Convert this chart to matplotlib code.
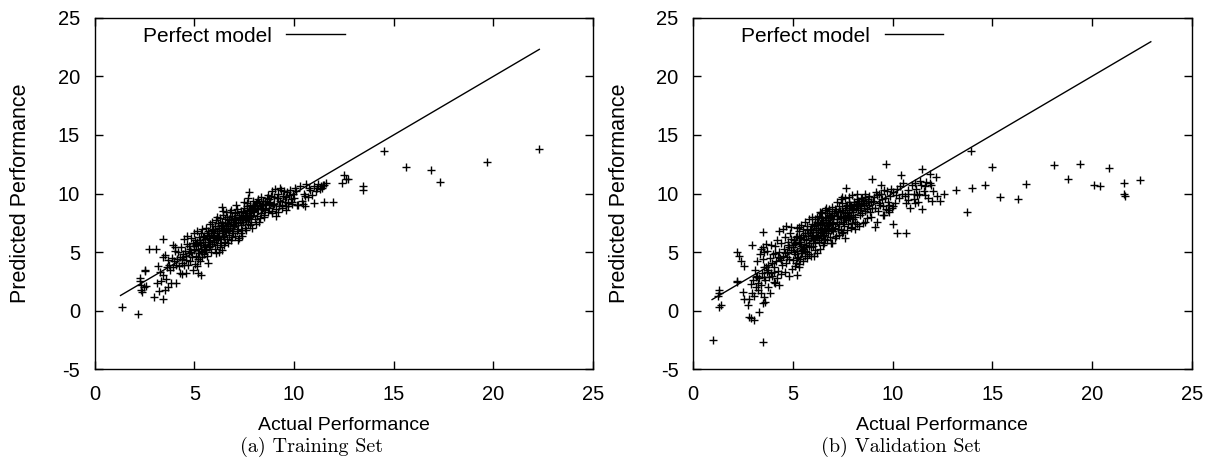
import matplotlib
matplotlib.use("Agg")
import matplotlib.pyplot as plt

plt.rcParams["font.family"] = ["Liberation Sans", "DejaVu Sans"]
plt.rcParams["axes.unicode_minus"] = False

# ---------- data ----------

train_actual = [
    1.36, 2.18, 14.49, 15.63, 16.88, 17.31, 19.67, 22.27, 13.45, 13.45,
    12.5, 12.6, 12.7, 12.4, 11.95, 11.5, 11.0, 10.55, 9.6, 9.62,
    9.1, 2.73, 3.06, 3.41, 2.53, 2.55, 2.28, 2.3, 2.35, 2.32,
    2.4, 2.5, 2.6, 2.96, 3.45, 3.25, 3.54, 3.68, 3.84, 3.15,
    3.35, 3.6, 3.45, 3.19, 3.45, 3.54, 3.64, 3.74, 3.93, 4.03,
    4.07, 4.6, 4.38, 4.26, 5.2, 5.35, 5.68, 6.37, 7.73, 3.3,
    4.1, 4.15, 4.2, 4.25, 4.3, 4.35, 4.4, 4.45, 4.5, 4.55,
    4.6, 4.62, 4.65, 4.7, 4.72, 4.75, 4.8, 4.82, 4.85, 4.9,
    4.92, 4.95, 4.98, 4.0, 3.9, 3.8, 3.7, 3.95, 4.05, 4.5,
    5.0, 5.02, 5.05, 5.08, 5.1, 5.12, 5.15, 5.18, 5.2, 5.22,
    5.25, 5.28, 5.3, 5.32, 5.35, 5.38, 5.4, 5.42, 5.45, 5.48,
    5.5, 5.52, 5.55, 5.58, 5.6, 5.62, 5.65, 5.68, 5.7, 5.72,
    5.75, 5.78, 5.8, 5.82, 5.85, 5.88, 5.9, 5.92, 5.95, 5.98,
    6.0, 6.02, 6.05, 6.08, 6.1, 6.12, 6.15, 6.18, 6.2, 6.22,
    6.25, 6.28, 6.3, 6.32, 6.35, 6.38, 6.4, 6.42, 6.45, 6.48,
    6.5, 6.52, 6.55, 6.58, 6.6, 6.62, 6.65, 6.68, 6.7, 6.72,
    6.75, 6.78, 6.8, 6.82, 6.85, 6.88, 6.9, 6.92, 6.95, 6.98,
    6.3, 6.5, 6.7, 6.9, 6.1, 6.4, 6.6, 6.85, 6.15, 6.45,
    7.0, 7.03, 7.06, 7.1, 7.13, 7.16, 7.2, 7.23, 7.26, 7.3,
    7.33, 7.36, 7.4, 7.43, 7.46, 7.5, 7.53, 7.56, 7.6, 7.63,
    7.66, 7.7, 7.73, 7.76, 7.8, 7.83, 7.86, 7.9, 7.93, 7.96,
    7.2, 7.4, 7.6, 7.8, 7.1, 7.5, 7.7, 7.9, 7.35, 7.65,
    8.0, 8.04, 8.08, 8.12, 8.16, 8.2, 8.24, 8.28, 8.32, 8.36,
    8.4, 8.44, 8.48, 8.52, 8.56, 8.6, 8.64, 8.68, 8.72, 8.76,
    8.8, 8.84, 8.88, 8.92, 8.96, 8.1, 8.3, 8.5, 8.7, 8.9,
    9.0, 9.05, 9.1, 9.15, 9.2, 9.25, 9.3, 9.35, 9.4, 9.45,
    9.5, 9.55, 9.6, 9.65, 9.7, 9.75, 9.8, 9.85, 9.9, 9.95,
    9.2, 9.4, 9.7, 9.9, 9.3,
    10.0, 10.1, 10.2, 10.3, 10.4, 10.5, 10.6, 10.7, 10.8, 10.9,
    11.0, 11.1, 11.2, 11.3, 11.4, 11.5, 11.6, 10.15, 10.45, 10.75,
    11.15, 11.35, 11.45, 10.05, 10.55,
    5.1, 5.3, 5.5, 5.7, 5.9, 6.05, 6.25, 6.45, 6.65, 6.85,
    7.05, 7.25, 7.45, 7.65, 7.85, 8.05, 8.25, 8.45, 5.2, 5.4,
    5.6, 5.8, 6.0, 6.2, 6.4, 6.6, 6.8, 7.0, 7.2, 7.4,
    7.6, 7.8, 8.0, 8.2, 8.4, 4.4, 4.6, 4.8, 5.0, 5.15,
    5.35, 5.55, 5.75, 5.95, 6.15, 6.35, 6.55, 6.75, 6.95, 7.15,
    7.35, 7.55, 7.75, 7.95, 8.15, 8.35, 8.55, 8.75, 9.0, 9.2,
]
train_predicted = [
    0.33, -0.32, 13.6, 12.25, 12.03, 10.94, 12.68, 13.77, 10.66, 10.31,
    11.6, 11.2, 11.2, 10.86, 9.26, 9.3, 9.2, 8.97, 8.6, 8.9,
    8.1, 5.3, 5.23, 6.1, 3.5, 3.4, 2.8, 2.5, 2.2, 1.8,
    1.6, 2.0, 2.1, 1.2, 1.0, 1.7, 1.75, 2.0, 2.33, 2.4,
    2.5, 2.7, 3.05, 3.84, 4.6, 4.75, 3.75, 3.9, 5.6, 5.46,
    2.4, 3.2, 3.13, 3.2, 3.2, 3.05, 4.1, 8.83, 10.1, 3.3,
    3.9, 4.4, 5.0, 3.8, 4.6, 5.4, 4.1, 4.8, 3.9, 5.1,
    4.3, 5.7, 6.4, 3.9, 4.9, 5.5, 4.2, 6.2, 5.0, 4.6,
    5.8, 3.5, 6.6, 4.2, 4.5, 3.5, 4.3, 3.7, 5.1, 6.1,
    5.2, 4.0, 6.0, 4.7, 5.6, 3.8, 6.8, 4.4, 5.3, 6.3,
    4.9, 5.8, 4.2, 6.6, 5.1, 7.0, 4.6, 5.9, 6.3, 5.4,
    4.8, 6.1, 5.6, 7.1, 5.2, 6.5, 4.7, 5.9, 6.8, 6.2,
    5.4, 7.4, 6.0, 5.0, 6.6, 7.6, 5.7, 6.3, 7.0, 5.9,
    6.5, 5.3, 7.2, 6.0, 7.7, 5.6, 6.8, 6.2, 7.5, 5.0,
    6.6, 7.9, 6.1, 7.3, 5.8, 6.9, 7.6, 6.4, 8.2, 7.0,
    6.3, 7.8, 5.9, 7.2, 6.7, 8.0, 6.1, 7.4, 6.9, 7.7,
    6.5, 8.4, 7.1, 6.0, 7.6, 6.8, 8.1, 7.3, 6.6, 7.9,
    5.4, 5.6, 5.8, 6.3, 4.9, 5.2, 8.4, 8.6, 8.0, 8.5,
    7.2, 6.4, 8.3, 7.6, 6.8, 8.7, 7.0, 8.0, 6.2, 7.8,
    8.5, 7.3, 6.9, 8.1, 7.6, 8.8, 7.1, 8.3, 7.7, 9.2,
    8.0, 7.4, 8.6, 7.9, 9.0, 8.2, 7.6, 8.8, 8.4, 9.4,
    6.0, 6.4, 6.9, 7.3, 9.0, 9.3, 9.6, 7.1, 6.6, 8.9,
    8.5, 7.8, 9.2, 8.1, 8.8, 9.5, 7.6, 8.9, 8.3, 9.7,
    8.7, 9.1, 8.0, 9.4, 8.6, 9.0, 9.6, 8.4, 9.2, 8.8,
    9.3, 9.8, 8.5, 10.2, 9.0, 7.4, 7.9, 8.2, 9.9, 8.3,
    9.1, 10.4, 8.7, 9.6, 10.0, 8.9, 9.4, 10.3, 9.0, 9.8,
    10.2, 9.3, 9.7, 10.1, 9.2, 9.9, 10.3, 9.5, 9.1, 10.0,
    8.4, 8.8, 8.9, 9.3, 10.5,
    9.6, 10.2, 9.0, 10.6, 9.4, 10.0, 10.8, 9.7, 10.3, 9.9,
    10.6, 10.2, 10.8, 10.4, 10.5, 10.7, 10.9, 9.0, 9.1, 10.5,
    10.5, 10.6, 10.75, 10.5, 9.8,
    5.7, 6.0, 6.4, 6.6, 6.9, 7.0, 7.1, 7.3, 7.5, 7.8,
    7.9, 8.2, 8.4, 8.5, 8.7, 9.0, 9.2, 9.4, 4.6, 5.0,
    5.3, 5.5, 5.9, 6.3, 6.8, 7.0, 7.2, 7.7, 7.5, 7.9,
    8.2, 8.1, 8.9, 8.7, 9.0, 4.4, 4.7, 5.3, 5.5, 5.9,
    5.6, 5.2, 6.4, 6.4, 6.6, 7.2, 6.8, 7.8, 7.4, 8.4,
    8.0, 7.8, 8.3, 8.6, 9.3, 8.8, 9.1, 9.5, 9.7, 9.6,
]

valid_actual = [
    0.98, 3.51, 3.32, 2.8, 2.9, 3.05, 1.29, 1.31, 1.4, 1.25,
    2.18, 2.28, 2.38, 2.57, 2.18, 2.48, 2.57, 2.73, 3.51, 9.69,
    11.49, 11.86, 12.2, 13.94, 13.2, 14.0, 13.73, 14.63, 15.0, 15.4,
    16.3, 16.71, 18.08, 18.8, 19.4, 20.09, 20.42, 20.87, 21.63, 21.59,
    21.68, 22.43, 10.04, 10.2, 10.67, 11.5, 12.4, 12.0, 12.6, 2.96,
    3.51, 3.55, 3.16, 3.26, 3.39, 3.55, 3.6, 3.5, 2.96, 3.06,
    2.8, 3.41, 3.74, 3.84, 4.04, 4.13, 4.33, 3.9, 4.04, 3.65,
    3.74, 3.55, 5.2, 5.3, 4.91, 5.3, 6.38, 6.67, 6.96, 7.45,
    7.68, 8.23, 8.62, 8.97, 9.4, 9.3, 6.96, 6.57, 7.64, 7.45,
    7.94, 8.13, 8.62, 9.1, 9.2, 9.59, 9.79, 10.37, 10.4, 10.76,
    10.67, 10.76, 11.15, 11.06, 11.15, 11.64, 11.93, 11.35, 11.64, 12.03,
    12.23, 2.2, 1.3, 2.9, 3.2, 3.0,
    3.1, 3.2, 3.3, 3.35, 3.45, 3.5, 3.6, 3.7, 3.75, 3.85,
    3.9, 3.95, 3.4, 3.65, 3.8, 3.25, 3.55, 3.15, 3.7, 3.95,
    4.0, 4.05, 4.1, 4.15, 4.2, 4.25, 4.3, 4.35, 4.4, 4.45,
    4.5, 4.55, 4.6, 4.65, 4.7, 4.75, 4.8, 4.85, 4.9, 4.95,
    4.2, 4.4, 4.6, 4.8, 4.3, 4.5, 4.7, 4.9, 4.1, 4.65,
    5.0, 5.03, 5.06, 5.1, 5.13, 5.16, 5.2, 5.23, 5.26, 5.3,
    5.33, 5.36, 5.4, 5.43, 5.46, 5.5, 5.53, 5.56, 5.6, 5.63,
    5.66, 5.7, 5.73, 5.76, 5.8, 5.83, 5.86, 5.9, 5.93, 5.96,
    5.1, 5.3, 5.5, 5.7, 5.9, 5.2, 5.4, 5.6, 5.8, 5.95,
    5.05, 5.45, 5.65, 5.85, 5.35,
    6.0, 6.02, 6.05, 6.08, 6.1, 6.12, 6.15, 6.18, 6.2, 6.22,
    6.25, 6.28, 6.3, 6.32, 6.35, 6.38, 6.4, 6.42, 6.45, 6.48,
    6.5, 6.52, 6.55, 6.58, 6.6, 6.62, 6.65, 6.68, 6.7, 6.72,
    6.75, 6.78, 6.8, 6.82, 6.85, 6.88, 6.9, 6.92, 6.95, 6.98,
    6.1, 6.3, 6.5, 6.7, 6.9, 6.2, 6.4, 6.6, 6.8, 6.05,
    6.35, 6.55, 6.75, 6.15, 6.45,
    7.0, 7.03, 7.06, 7.1, 7.13, 7.16, 7.2, 7.23, 7.26, 7.3,
    7.33, 7.36, 7.4, 7.43, 7.46, 7.5, 7.53, 7.56, 7.6, 7.63,
    7.66, 7.7, 7.73, 7.76, 7.8, 7.83, 7.86, 7.9, 7.93, 7.96,
    7.1, 7.3, 7.5, 7.7, 7.9, 7.2, 7.4, 7.6, 7.8, 7.95,
    8.0, 8.04, 8.08, 8.12, 8.16, 8.2, 8.24, 8.28, 8.32, 8.36,
    8.4, 8.44, 8.48, 8.52, 8.56, 8.6, 8.64, 8.68, 8.72, 8.76,
    8.8, 8.84, 8.88, 8.92, 8.96, 8.1, 8.3, 8.5, 8.7, 8.9,
    9.0, 9.1, 9.2, 9.3, 9.4, 9.5, 9.6, 9.7, 9.8, 9.9,
    9.05, 9.25, 9.45, 9.65, 9.85, 9.15, 9.35, 9.55, 9.75, 9.95,
    9.5, 9.8,
    10.0, 10.1, 10.2, 10.3, 10.5, 10.6, 10.8, 10.9, 11.0, 11.1,
    11.2, 11.3, 11.4, 11.6, 11.8, 11.9, 10.45, 10.15, 11.25, 11.7,
    10.0, 11.45,
    5.1, 5.3, 5.5, 5.7, 5.9, 6.05, 6.25, 6.45, 6.65, 6.85,
    7.05, 7.25, 7.45, 7.65, 7.85, 8.05, 8.25, 8.45, 5.2, 5.4,
    5.6, 5.8, 6.0, 6.2, 6.4, 6.6, 6.8, 7.0, 7.2, 7.4,
    7.6, 7.8, 8.0, 8.2, 8.4, 4.4, 4.6, 4.8, 5.0, 5.15,
    5.35, 5.55, 5.75, 5.95, 6.15, 6.35, 6.55, 6.75, 6.95, 7.15,
    7.35, 7.55, 7.75, 7.95, 8.15, 8.35, 8.55, 8.75, 4.25, 4.75,
]
valid_predicted = [
    -2.5, -2.7, -0.15, -0.5, -0.65, -0.75, 1.76, 0.33, 0.45, 1.25,
    5.05, 4.7, 4.24, 3.84, 2.47, 1.56, 1.0, 0.48, 6.7, 12.55,
    12.1, 11.7, 11.45, 13.6, 10.3, 10.46, 8.4, 10.74, 12.3, 9.74,
    9.55, 10.8, 12.4, 11.23, 12.48, 10.69, 10.63, 12.17, 10.86, 9.94,
    9.83, 11.14, 7.38, 6.6, 6.62, 8.7, 9.4, 9.4, 10.0, 5.6,
    5.4, 5.0, 2.05, 1.76, 1.47, 1.13, 0.76, 0.62, 1.47, 1.25,
    0.96, 2.19, 2.05, 1.47, 2.47, 2.33, 2.19, 3.19, 3.33, 3.75,
    3.47, 2.9, 3.04, 3.76, 7.17, 7.17, 8.46, 8.75, 8.89, 9.74,
    10.46, 10.0, 10.0, 11.26, 10.74, 10.0, 5.75, 5.75, 6.18, 6.6,
    7.17, 7.6, 7.6, 7.17, 7.6, 8.18, 8.6, 10.6, 11.6, 10.0,
    9.17, 9.46, 9.17, 10.0, 10.9, 10.6, 10.74, 10.0, 9.9, 10.2,
    9.75, 2.5, 1.5, 2.3, 3.0, 2.6,
    3.5, 4.2, 2.8, 4.8, 3.2, 4.4, 2.6, 5.1, 3.9, 4.5,
    5.6, 3.0, 5.3, 5.7, 2.9, 2.4, 3.7, 2.9, 3.3, 4.1,
    4.8, 3.7, 5.5, 4.2, 6.0, 3.4, 5.0, 4.5, 5.8, 3.9,
    4.7, 5.3, 6.3, 4.1, 5.0, 5.6, 4.4, 6.6, 5.2, 3.6,
    2.8, 3.1, 3.3, 3.0, 6.8, 7.0, 4.6, 6.1, 4.9, 7.2,
    5.4, 4.3, 6.0, 4.8, 5.7, 4.1, 6.4, 5.1, 4.6, 5.9,
    6.8, 4.4, 5.5, 6.3, 4.9, 7.0, 5.3, 6.1, 4.7, 6.6,
    5.6, 7.2, 5.0, 6.4, 5.8, 4.8, 6.9, 6.2, 5.4, 7.4,
    3.8, 4.0, 4.2, 4.5, 4.7, 7.1, 7.3, 7.6, 7.8, 8.0,
    5.0, 5.2, 6.0, 6.6, 5.7,
    6.7, 5.5, 7.3, 6.1, 7.8, 5.2, 6.9, 6.4, 7.6, 4.9,
    6.5, 7.1, 8.1, 5.9, 7.4, 6.7, 7.9, 6.2, 7.0, 8.4,
    6.4, 7.7, 6.9, 7.3, 8.0, 6.1, 7.5, 6.8, 8.3, 7.2,
    6.6, 7.9, 7.1, 8.5, 6.3, 7.6, 8.1, 6.9, 7.4, 8.2,
    5.8, 6.0, 5.6, 6.0, 5.8, 8.0, 8.3, 8.6, 8.7, 4.7,
    5.3, 7.0, 7.3, 7.1, 6.6,
    7.5, 6.8, 8.3, 7.1, 8.7, 6.4, 7.8, 8.1, 7.0, 8.9,
    7.4, 8.5, 6.9, 8.0, 9.2, 7.6, 8.4, 7.2, 8.8, 8.1,
    7.7, 9.0, 8.3, 7.4, 8.6, 9.3, 7.9, 8.2, 8.9, 7.5,
    6.2, 6.5, 6.7, 6.9, 7.1, 9.3, 9.5, 9.6, 9.7, 9.9,
    8.4, 7.8, 9.1, 8.0, 8.8, 9.5, 7.4, 8.6, 9.2, 8.2,
    9.6, 8.9, 8.3, 9.4, 9.0, 8.5, 9.7, 9.2, 8.7, 9.5,
    9.0, 9.8, 8.4, 9.3, 8.8, 7.0, 7.2, 7.5, 7.9, 8.0,
    9.4, 8.8, 9.9, 9.2, 10.0, 8.9, 9.6, 10.2, 9.0, 10.4,
    9.7, 8.5, 9.5, 8.7, 9.8, 10.1, 9.0, 10.3, 9.3, 8.8,
    8.2, 8.4,
    10.1, 9.2, 10.4, 9.6, 10.9, 9.8, 10.3, 8.8, 10.7, 9.5,
    10.4, 9.3, 11.1, 10.2, 9.6, 10.9, 10.0, 9.9, 9.9, 11.0,
    8.9, 10.7,
    5.8, 6.2, 6.5, 6.9, 7.0, 7.2, 7.5, 7.6, 7.9, 8.0,
    8.2, 8.4, 8.6, 8.9, 9.0, 9.3, 9.4, 9.6, 4.5, 4.9,
    5.1, 5.5, 6.0, 6.3, 6.9, 7.1, 7.4, 7.8, 7.6, 7.9,
    8.3, 8.0, 8.6, 8.9, 9.1, 4.3, 4.9, 5.4, 5.6, 6.3,
    5.9, 5.4, 6.6, 6.5, 6.7, 7.3, 6.5, 7.7, 7.0, 8.5,
    8.1, 7.9, 8.2, 8.7, 9.0, 8.8, 9.2, 9.4, 4.6, 5.9,
]

# the y = x line runs over the range of actual values
train_line = [1.3, 22.3]
valid_line = [0.95, 22.95]

panels = [
    ("(a) Training Set", train_actual, train_predicted, train_line),
    ("(b) Validation Set", valid_actual, valid_predicted, valid_line),
]
x_ticks = [0, 5, 10, 15, 20, 25]
y_ticks = [-5, 0, 5, 10, 15, 20, 25]

fig = plt.figure(figsize=(12.16, 4.59), dpi=100)
lefts = [0.0778, 0.570]
caption_x = [0.256, 0.741]

for left, cx, (caption, actual, predicted, line) in zip(lefts, caption_x, panels):
    ax = fig.add_axes([left, 0.1954, 0.410, 0.766])
    ax.plot(line, line, color="black", lw=1.0, label="Perfect model")
    ax.plot(actual, predicted, linestyle="none", marker="+", ms=5.5,
            mew=1.0, color="black")
    ax.set_xlim(0, 25)
    ax.set_ylim(-5, 25)
    ax.set_xticks(x_ticks)
    ax.set_yticks(y_ticks)
    ax.tick_params(direction="in", top=True, right=True, length=6,
                   width=1, labelsize=14.5)
    ax.tick_params(axis="x", pad=11)
    ax.tick_params(axis="y", pad=10.5)
    for s in ax.spines.values():
        s.set_linewidth(1.0)
    ax.set_xlabel("Actual Performance", fontsize=14, labelpad=9.5)
    ax.set_ylabel("Predicted Performance", fontsize=15.5, labelpad=19)
    ax.legend(loc="center left", bbox_to_anchor=(0.097, 0.948), frameon=False,
              markerfirst=False, fontsize=15, handlelength=2.8,
              handletextpad=0.7, borderpad=0, borderaxespad=0)
    fig.text(cx, 0.016, caption, ha="center", va="baseline",
             fontsize=14.5, family="cmr10")

fig.savefig("out.png", dpi=100)
